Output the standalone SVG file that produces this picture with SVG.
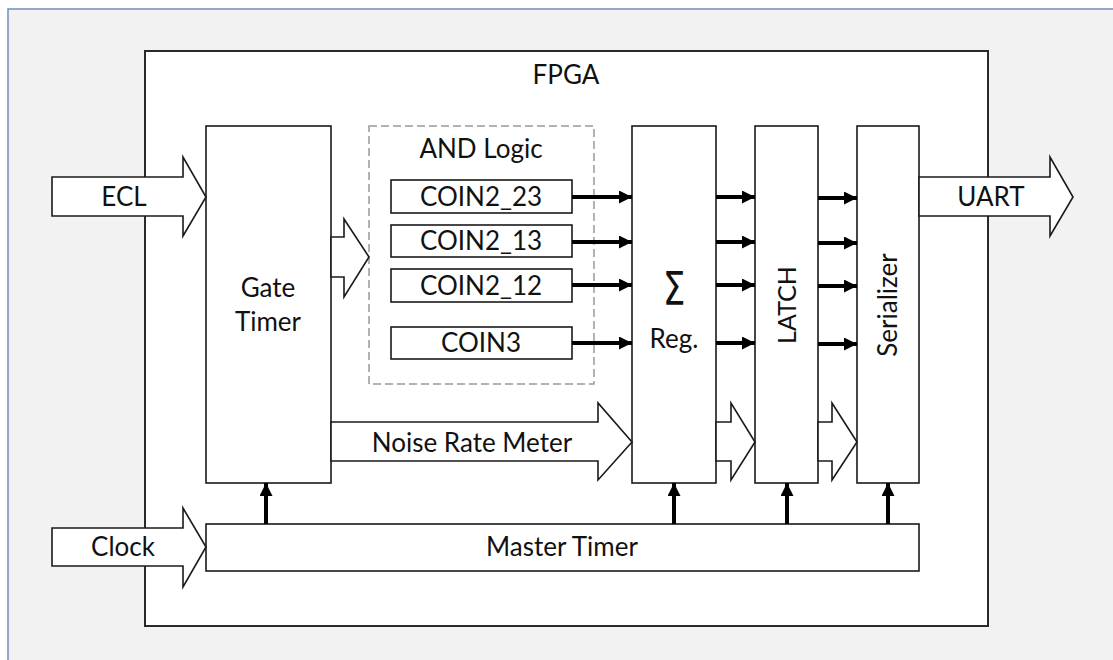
<svg xmlns="http://www.w3.org/2000/svg" width="1113" height="660" viewBox="0 0 1113 660">
<style>
.box{fill:#fff;stroke:#1a1a1a;stroke-width:1.6}
.blk{fill:#fff;stroke:#1a1a1a;stroke-width:1.6;stroke-linejoin:miter}
.t{font-family:Lato,"Liberation Sans",sans-serif;font-size:26px;fill:#111;text-anchor:middle}
.w{stroke:#000;stroke-width:4;fill:none}
</style>
<defs>
<marker id="ah" markerUnits="userSpaceOnUse" markerWidth="14" markerHeight="14" refX="13" refY="6.5" orient="auto">
<path d="M0,0 L13,6.5 L0,13 z" fill="#000"/>
</marker>
</defs>
<rect x="8" y="9" width="1120" height="670" fill="#f2f2f2" stroke="#6c8ebf" stroke-width="1.5"/>
<g id="fpga">
<rect x="145" y="51" width="843" height="575" fill="#fff" stroke="#2a2a2a" stroke-width="2"/>
<text class="t" x="566" y="84">FPGA</text>
</g>
<g id="gate-timer">
<rect class="box" x="206" y="126" width="125" height="357"/>
<text class="t" x="268" y="297">Gate</text>
<text class="t" x="268" y="331">Timer</text>
</g>
<g id="and-logic">
<rect x="369" y="126" width="225" height="258" fill="none" stroke="#999" stroke-width="1.5" stroke-dasharray="8,4"/>
<text class="t" x="481" y="158">AND Logic</text>
</g>
<g id="coin2_23">
<rect class="box" x="391" y="180" width="181" height="33"/>
<text class="t" x="481" y="206">COIN2_23</text>
</g>
<g id="coin2_13">
<rect class="box" x="391" y="225" width="181" height="32"/>
<text class="t" x="481" y="250">COIN2_13</text>
</g>
<g id="coin2_12">
<rect class="box" x="391" y="269" width="181" height="33"/>
<text class="t" x="481" y="295">COIN2_12</text>
</g>
<g id="coin3">
<rect class="box" x="391" y="327" width="181" height="32"/>
<text class="t" x="481" y="352">COIN3</text>
</g>
<g id="sum-reg">
<rect class="box" x="632" y="126" width="84" height="357"/>
<text transform="translate(674,305) scale(0.78,1)" x="0" y="0" style="font-family:'DejaVu Sans',sans-serif;font-size:46px;fill:#111;text-anchor:middle">Σ</text>
<text class="t" x="674" y="348">Reg.</text>
</g>
<g id="latch">
<rect class="box" x="755" y="126" width="63" height="357"/>
<text class="t" transform="translate(796,305) rotate(-90)" x="0" y="0" style="font-size:25px">LATCH</text>
</g>
<g id="serializer">
<rect class="box" x="857" y="126" width="62" height="357"/>
<text class="t" transform="translate(897,305) rotate(-90)" x="0" y="0">Serializer</text>
</g>
<g id="master-timer">
<rect class="box" x="206" y="524" width="713" height="47"/>
<text class="t" x="562" y="556">Master Timer</text>
</g>
<g id="ecl">
<polygon class="blk" points="52,177 183,177 183,157 206,197 183,236 183,216 52,216"/>
<text class="t" x="124" y="206">ECL</text>
</g>
<g id="clock">
<polygon class="blk" points="52,528 183,528 183,508 206,547 183,587 183,566 52,566"/>
<text class="t" x="123" y="556">Clock</text>
</g>
<g id="uart">
<polygon class="blk" points="919,177 1050,177 1050,157 1073,197 1050,236 1050,216 919,216"/>
<text class="t" x="991" y="206">UART</text>
</g>
<g id="connectors">
<polygon class="blk" points="331,237 344,237 344,219 369,257 344,297 344,277 331,277"/>
<polygon class="blk" points="331,422 598,422 598,403 632,442 598,480 598,461 331,461"/>
<text class="t" x="472" y="452">Noise Rate Meter</text>
<polygon class="blk" points="716,422 731,422 731,403 755,442 731,480 731,461 716,461"/>
<polygon class="blk" points="818,422 832,422 832,403 857,442 832,480 832,461 818,461"/>
<line class="w" x1="572" y1="197" x2="632" y2="197" marker-end="url(#ah)"/>
<line class="w" x1="572" y1="242" x2="632" y2="242" marker-end="url(#ah)"/>
<line class="w" x1="572" y1="285" x2="632" y2="285" marker-end="url(#ah)"/>
<line class="w" x1="572" y1="343" x2="632" y2="343" marker-end="url(#ah)"/>
<line class="w" x1="716" y1="197" x2="755" y2="197" marker-end="url(#ah)"/>
<line class="w" x1="716" y1="242" x2="755" y2="242" marker-end="url(#ah)"/>
<line class="w" x1="716" y1="285" x2="755" y2="285" marker-end="url(#ah)"/>
<line class="w" x1="716" y1="343" x2="755" y2="343" marker-end="url(#ah)"/>
<line class="w" x1="818" y1="198" x2="857" y2="198" marker-end="url(#ah)"/>
<line class="w" x1="818" y1="243" x2="857" y2="243" marker-end="url(#ah)"/>
<line class="w" x1="818" y1="286" x2="857" y2="286" marker-end="url(#ah)"/>
<line class="w" x1="818" y1="344" x2="857" y2="344" marker-end="url(#ah)"/>
<line class="w" x1="266" y1="524" x2="266" y2="483" marker-end="url(#ah)"/>
<line class="w" x1="674" y1="524" x2="674" y2="483" marker-end="url(#ah)"/>
<line class="w" x1="787" y1="524" x2="787" y2="483" marker-end="url(#ah)"/>
<line class="w" x1="888" y1="524" x2="888" y2="483" marker-end="url(#ah)"/>
</g>
</svg>
